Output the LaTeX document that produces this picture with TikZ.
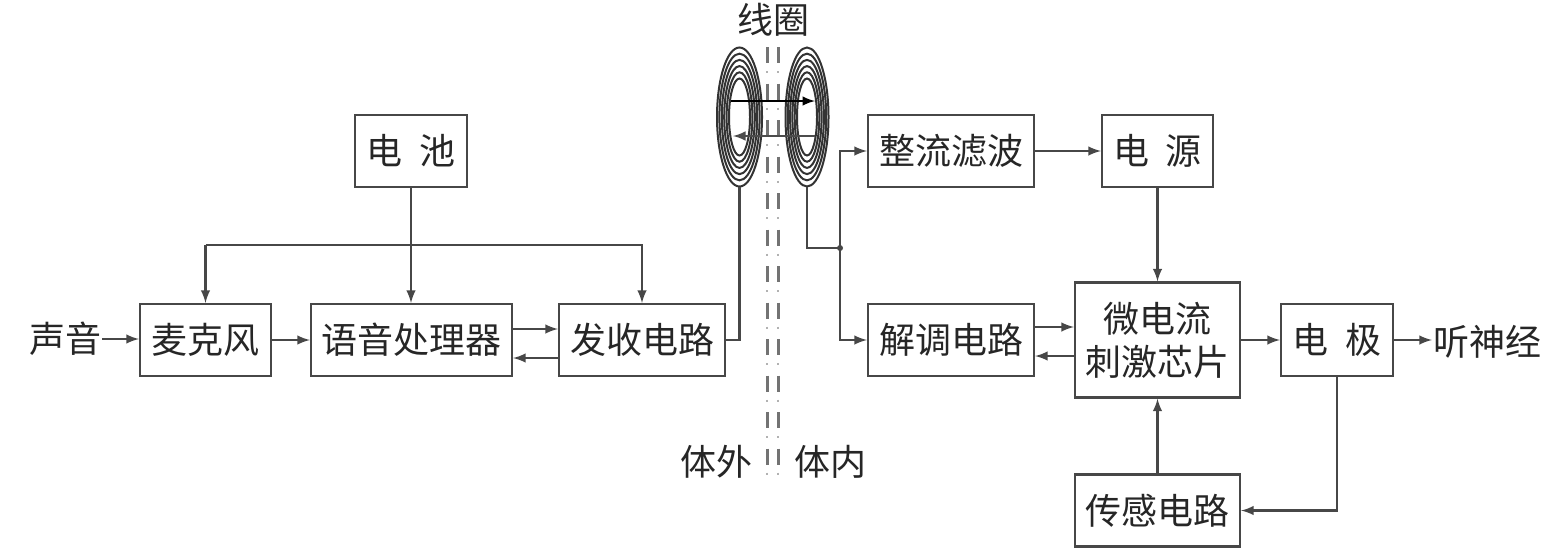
\documentclass[tikz,border=0pt]{standalone}
\usepackage{fontspec}
\setmainfont{Noto Sans CJK SC}
\usetikzlibrary{calc,arrows}

\begin{document}
\begin{tikzpicture}[x=0.5pt,y=-0.5pt,
    line width=1.15pt,color=black!72,text=black!85,
    kuang/.style={draw,rectangle,inner sep=0pt,minimum height=36pt},
    wenzi/.style={inner sep=0pt},
    xu/.style={black!55,line width=1.5pt,dash pattern=on 8pt off 10.25pt},
    dian/.style={black!30,line width=1.2pt,dash pattern=on 1pt off 17.25pt,dash phase=-12pt},
    font=\fontsize{18}{21.5}\selectfont]
    \useasboundingbox (0,0) rectangle (1556,559);
    % boxes
    \node[kuang,minimum width=56pt](dianchi)at(411,151){电\hspace{0.45em}池};
    \node[kuang,minimum width=65.5pt](maike)at(205.5,340){麦克风};
    \node[kuang,minimum width=100.5pt](yuyin)at(411.5,340){语音处理器};
    \node[kuang,minimum width=83pt](fashou)at(642,340){发收电路};
    \node[kuang,minimum width=83pt](zhengliu)at(951,151){整流滤波};
    \node[kuang,minimum width=55.5pt](dianyuan)at(1157.5,151){电\hspace{0.45em}源};
    \node[kuang,minimum width=83pt](jietiao)at(951,340){解调电路};
    \node[kuang,minimum width=82.5pt,minimum height=57.5pt,align=center](xin)at(1157.5,340){微电流\\刺激芯片};
    \node[kuang,minimum width=56pt](dianji)at(1337,340){电\hspace{0.45em}极};
    \node[kuang,minimum width=82.5pt](chuangan)at(1157.5,510.5){传感电路};
    % texts
    \node[wenzi](shengyin)at(65,339){声音};
    \node[wenzi](tingshen)at(1487,342){听神经};
    \node[wenzi](xianquan)at(773,20){线圈};
    \node[wenzi](tiwai)at(716,462){体外};
    \node[wenzi](tinei)at(830,462){体内};
    % body wall
    \coordinate(qianga)at(767,47);
    \coordinate(qiangb)at(767,477);
    \coordinate(qiangc)at(778,47);
    \coordinate(qiangd)at(778,477);
    \draw[xu](qianga)--(qiangb);
    \draw[xu](qiangc)--(qiangd);
    \draw[dian](qianga)--(qiangb);
    \draw[dian](qiangc)--(qiangd);
    % coils
    \coordinate(zuo)at(739.5,117);
    \coordinate(you)at(807,117);
    \foreach \i in {0,...,5}{
        \draw[line width=1pt,black!80](zuo) ellipse ({22.5-2.4*\i} and {69.5-6.2*\i});
        \draw[line width=1pt,black!80](you) ellipse ({21.5-2.3*\i} and {69.5-6.2*\i});
    }
    \coordinate(zuodi)at(739.5,187);
    \coordinate(youdi)at(807,187);
    \coordinate(shanga)at(731,101);
    \coordinate(shangb)at(815,101);
    \coordinate(xiaa)at(815,136);
    \coordinate(xiab)at(733,136);
    \draw[-latex,black](shanga)--(shangb);
    \draw[-latex,black!70](xiaa)--(xiab);
    % left chain
    \draw[-latex](shengyin)--(shengyin-|maike.west);
    \draw[-latex](maike)--(yuyin);
    \draw[-latex]([yshift=5.5pt]yuyin.east)--([yshift=5.5pt]yuyin.east-|fashou.west);
    \draw[-latex]([yshift=-9pt]fashou.west)--([yshift=-9pt]fashou.west-|yuyin.east);
    \coordinate(fenzhi)at(411,245);
    \draw[-latex](dianchi)--(dianchi|-yuyin.north);
    \draw[-latex](fenzhi-|maike)--(fenzhi-|fashou)--(fashou.north);
    \draw[-latex](fenzhi-|maike)--(maike.north);
    \draw(fashou.east)--(fashou.east-|zuodi)--(zuodi);
    % right chain
    \coordinate(jiedian)at(840,248);
    \fill(jiedian) circle (1.5pt);
    \draw(youdi)--(youdi|-jiedian)--(jiedian);
    \draw[-latex](jiedian)--(jiedian|-zhengliu)--(zhengliu.west);
    \draw[-latex](jiedian)--(jiedian|-jietiao)--(jietiao.west);
    \draw[-latex](zhengliu)--(dianyuan);
    \draw[-latex](dianyuan)--(xin);
    \draw[-latex]([yshift=6.5pt]jietiao.east)--([yshift=6.5pt]jietiao.east-|xin.west);
    \draw[-latex]([yshift=-8pt]xin.west|-jietiao.east)--([yshift=-8pt]jietiao.east);
    \draw[-latex](xin)--(dianji);
    \draw[-latex](dianji)--(dianji-|tingshen.west);
    \draw[-latex](dianji)--(dianji|-chuangan)--(chuangan);
    \draw[-latex](chuangan)--(xin);
\end{tikzpicture}
\end{document}
